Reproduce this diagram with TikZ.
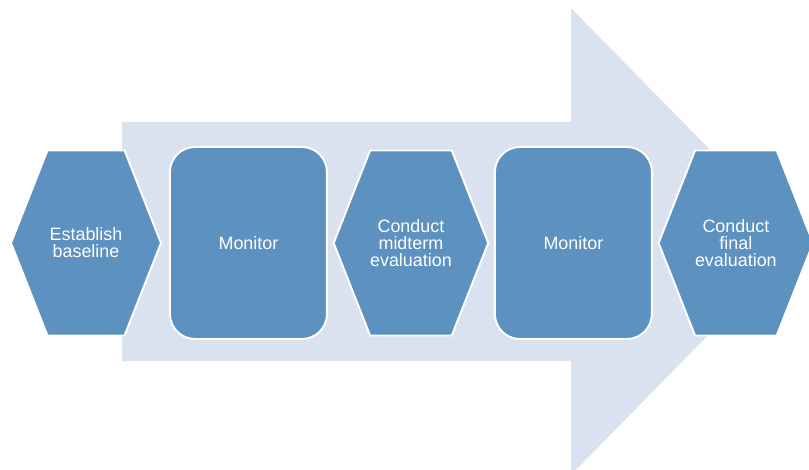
\documentclass[tikz,border=0pt]{standalone}
\usepackage{fontspec}
\setmainfont{Liberation Sans}
\usetikzlibrary{shapes,arrows,positioning}
\definecolor{stepblue}{RGB}{92,145,192}
\definecolor{arrowblue}{RGB}{217,226,238}
\tikzstyle{hexa} = [signal, signal to=east and west, signal pointer angle=137,
    draw=white, line width=1.1pt, fill=stepblue, text=white, align=center,
    minimum width=3cm, minimum height=3.7cm, inner sep=0pt,
    font=\fontsize{10.2}{9.7}\selectfont]
\tikzstyle{block} = [rectangle, draw=white, line width=1.1pt, fill=stepblue,
    text=white, align=center, rounded corners=0.5cm,
    minimum width=3.14cm, minimum height=3.84cm,
    font=\fontsize{10.2}{9.7}\selectfont]
\tikzstyle{bigarrow} = [fill=arrowblue]

\begin{document}
\begin{tikzpicture}[x=0.02cm, y=-0.02cm, node distance=3.25cm]
		\useasboundingbox (0,0) rectangle (809,470);
		% background arrow
		\path [bigarrow] (122,122) -- (571,122) -- (571,8) -- (800,241.5)
			-- (571,475) -- (571,361) -- (122,361) -- cycle;

		\node [hexa] (base) at (86,243) {Establish\\baseline};
		\node [block, right of=base] (mon1) {Monitor};
		\node [hexa, right of=mon1] (mid) {Conduct\\midterm\\evaluation};
		\node [block, right of=mid] (mon2) {Monitor};
		\node [hexa, right of=mon2] (final) {Conduct\\final\\evaluation};
	\end{tikzpicture}
\end{document}
